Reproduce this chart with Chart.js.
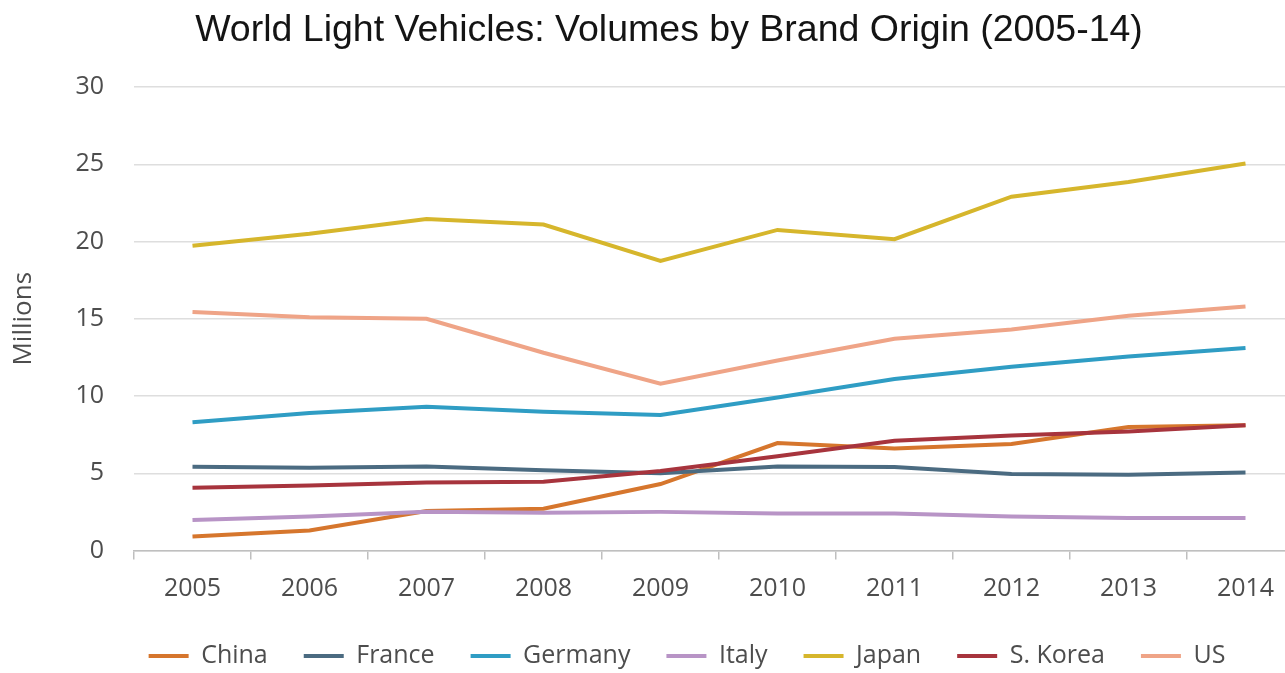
<!DOCTYPE html>
<html>
<head>
<meta charset="utf-8">
<script src="https://cdn.jsdelivr.net/npm/chart.js@4/dist/chart.umd.min.js"></script>
<style>
  html, body { margin: 0; padding: 0; background: #ffffff; overflow: hidden; }
  #wrap { position: absolute; left: 0; top: 0; width: 1340px; height: 673px; }
</style>
</head>
<body>
<div id="wrap"><canvas id="chart" width="1340" height="673"></canvas></div>
<script>
// Light-vehicle volumes (millions) by brand origin, 2005-2014
const years = ['2005', '2006', '2007', '2008', '2009', '2010', '2011', '2012', '2013', '2014'];

const china   = [0.9, 1.3, 2.55, 2.7, 4.3, 6.95, 6.6, 6.9, 8.0, 8.1];
const france  = [5.42, 5.36, 5.44, 5.2, 5.0, 5.44, 5.4, 4.95, 4.9, 5.05];
const germany = [8.3, 8.9, 9.3, 8.98, 8.77, 9.9, 11.1, 11.9, 12.55, 13.1];
const italy   = [1.97, 2.2, 2.5, 2.45, 2.5, 2.4, 2.4, 2.2, 2.1, 2.1];
const japan   = [19.72, 20.5, 21.45, 21.1, 18.75, 20.75, 20.15, 22.9, 23.85, 25.05];
const korea   = [4.06, 4.2, 4.4, 4.45, 5.15, 6.1, 7.1, 7.45, 7.7, 8.1];
const us      = [15.43, 15.1, 15.0, 12.8, 10.8, 12.3, 13.7, 14.3, 15.2, 15.8];

const seriesNames  = ['China', 'France', 'Germany', 'Italy', 'Japan', 'S. Korea', 'US'];
const seriesValues = [china, france, germany, italy, japan, korea, us];
const seriesColors = ['#d6762d', '#4b6b81', '#2f9dc4', '#b894c6', '#d6b62c', '#a7343d', '#efa487'];

const yTicks = { min: 0, max: 30, step: 5 };

const labelFont = { family: '"Open Sans", "DejaVu Sans", sans-serif', size: 25 };
const textGray = '#4d4d4d';

// later series are painted above earlier ones
const datasets = seriesNames.map((name, i) => ({
  label: name,
  data: seriesValues[i],
  borderColor: seriesColors[i],
  backgroundColor: seriesColors[i],
  borderWidth: 4,
  pointRadius: 0,
  pointHoverRadius: 0,
  tension: 0,
  fill: false,
  order: seriesNames.length - i
}));

// slide the title and legend rows sideways after the layout pass
const nudge = {
  id: 'nudge',
  afterLayout(chart) {
    const t = chart.titleBlock;
    if (t) { t.left += 17; t.right += 17; }
    const l = chart.legend;
    if (l) { l.left += 35; l.right += 35; }
  }
};

new Chart(document.getElementById('chart'), {
  type: 'line',
  data: { labels: years, datasets },
  plugins: [nudge],
  options: {
    responsive: false,
    animation: false,
    devicePixelRatio: 1,
    layout: { padding: { left: 0, right: 36, top: 0, bottom: -5.5 } },
    plugins: {
      tooltip: { enabled: false },
      title: {
        display: true,
        text: 'World Light Vehicles: Volumes by Brand Origin (2005-14)',
        color: '#141414',
        font: { family: '"Liberation Sans", Arial, sans-serif', size: 37.5, weight: 'normal', lineHeight: 1.2 },
        padding: { top: 8.5, bottom: 33.5 }
      },
      legend: {
        position: 'bottom',
        labels: {
          usePointStyle: true,
          pointStyle: 'line',
          pointStyleWidth: 40,
          padding: 36,
          color: textGray,
          font: labelFont,
          sort: (a, b) => a.datasetIndex - b.datasetIndex
        }
      }
    },
    scales: {
      x: {
        type: 'category',
        offset: true,
        grid: {
          offset: true,
          drawOnChartArea: false,
          drawTicks: true,
          tickLength: 9,
          color: '#bfbfbf',
          lineWidth: 1.5
        },
        border: { display: true, color: '#bfbfbf', width: 1.5 },
        ticks: { color: textGray, font: labelFont, padding: 14, maxRotation: 0, autoSkip: false },
        afterFit(scale) { scale.height = 57; }
      },
      y: {
        min: yTicks.min,
        max: yTicks.max,
        grid: { color: '#dedede', lineWidth: 1.5, drawTicks: false },
        border: { display: false },
        ticks: { stepSize: yTicks.step, color: textGray, font: labelFont, padding: 30 },
        title: {
          display: true,
          text: 'Millions',
          color: textGray,
          font: { family: '"Open Sans", "DejaVu Sans", sans-serif', size: 26 },
          padding: { top: 8, bottom: 0 }
        },
        afterFit(scale) { scale.width = 134; }
      }
    }
  }
});
</script>
</body>
</html>
